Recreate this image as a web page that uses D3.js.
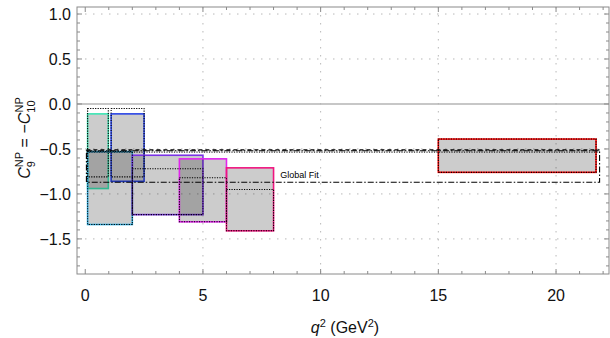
<!DOCTYPE html>
<html><head><meta charset="utf-8">
<script src="https://cdn.jsdelivr.net/npm/d3@7"></script>
<style>body{margin:0;background:#fff}svg{display:block}</style>
</head><body><svg id="c" width="610" height="338"></svg>
<script>
// bins (q^2 ranges) with 1-sigma ranges of C9 = -C10, outlined in colour
const binLo   = [0.1, 1.1, 0.1, 2.0, 4.0, 6.0, 15.0];
const binHi   = [0.98, 2.5, 2.0, 5.0, 6.0, 8.0, 21.7];
const boxTop  = [-0.11, -0.11, -0.53, -0.57, -0.61, -0.71, -0.39];
const boxBot  = [-0.94, -0.86, -1.34, -1.23, -1.31, -1.41, -0.76];
const boxCol  = ["#3de6b4", "#2a45e6", "#2fb1e6", "#7a32e6", "#e224ee", "#f0157f", "#ff0000"];
// second (black dotted) ranges on the same bins
const dotTop  = [-0.05, -0.05, -0.53, -0.72, -0.82, -0.95, -0.39];
const dotBot  = [-0.81, -0.81, -1.34, -1.23, -1.31, -1.41, -0.76];
// global fit band
const globalLo = 0.05, globalHi = 21.85;
const globalTop = -0.52, globalBot = -0.87, globalCentral = -0.51, globalTop2 = -0.535;
const xTicks = [0, 5, 10, 15, 20];
const yTicks = [1.0, 0.5, 0.0, -0.5, -1.0, -1.5];

const svg = d3.select("#c");
const L = 77, R = 609, T = 7, B = 274;
const x = d3.scaleLinear().domain([-0.35, 22.25]).range([L, R]);
const y = d3.scaleLinear().domain([-1.89, 1.078]).range([B, T]);

// grid
const g = svg.append("g");
yTicks.filter(v => v !== 0).forEach(v => {
  g.append("line").attr("x1", L).attr("x2", R).attr("y1", y(v)).attr("y2", y(v))
    .attr("stroke", "#b8b8b8").attr("stroke-width", 1).attr("stroke-dasharray", "1.5,6.5");
});
xTicks.filter(v => v !== 0).forEach(v => {
  g.append("line").attr("y1", T).attr("y2", B).attr("x1", x(v)).attr("x2", x(v))
    .attr("stroke", "#b8b8b8").attr("stroke-width", 1).attr("stroke-dasharray", "1.5,6.5");
});
g.append("line").attr("x1", L).attr("x2", R).attr("y1", y(0)).attr("y2", y(0))
  .attr("stroke", "#b4b4b4").attr("stroke-width", 1.6);

// boxes
const idx = d3.range(binLo.length);
svg.append("g").selectAll("rect").data(idx).join("rect")
  .attr("x", i => x(binLo[i])).attr("width", i => x(binHi[i]) - x(binLo[i]))
  .attr("y", i => y(boxTop[i])).attr("height", i => y(boxBot[i]) - y(boxTop[i]))
  .attr("fill", "#000").attr("fill-opacity", 0.2)
  .attr("stroke", i => boxCol[i]).attr("stroke-width", 1.6);
svg.append("g").selectAll("rect").data(idx).join("rect")
  .attr("x", i => x(binLo[i])).attr("width", i => x(binHi[i]) - x(binLo[i]))
  .attr("y", i => y(dotTop[i])).attr("height", i => y(dotBot[i]) - y(dotTop[i]))
  .attr("fill", "none").attr("stroke", "#000").attr("stroke-width", 1.1)
  .attr("stroke-dasharray", "1.2,1.3");

// global fit
svg.append("rect").attr("x", x(globalLo)).attr("width", x(globalHi) - x(globalLo))
  .attr("y", y(globalTop)).attr("height", y(globalBot) - y(globalTop))
  .attr("fill", "none").attr("stroke", "#000").attr("stroke-width", 1.1)
  .attr("stroke-dasharray", "6,2,1.5,2");
svg.append("line").attr("x1", x(globalLo)).attr("x2", x(globalHi))
  .attr("y1", y(globalCentral)).attr("y2", y(globalCentral))
  .attr("stroke", "#000").attr("stroke-width", 1.1).attr("stroke-dasharray", "4,3");
svg.append("line").attr("x1", x(globalLo)).attr("x2", x(globalHi))
  .attr("y1", y(globalTop2)).attr("y2", y(globalTop2))
  .attr("stroke", "#000").attr("stroke-width", 1).attr("stroke-dasharray", "1.2,1.3");
svg.append("text").attr("x", x(9.1)).attr("y", y(globalBot) - 4)
  .attr("text-anchor", "middle").attr("font-family", "Liberation Sans, Arial, sans-serif")
  .attr("font-size", 9).text("Global Fit");

// frame + ticks
const fr = svg.append("g").attr("stroke", "#8a8a8a").attr("stroke-width", 1);
fr.append("rect").attr("x", L).attr("y", T).attr("width", R - L).attr("height", B - T).attr("fill", "none");
const xMinor = d3.range(0, 23, 1);
xMinor.forEach(v => {
  const len = v % 5 === 0 ? 5 : 3;
  fr.append("line").attr("x1", x(v)).attr("x2", x(v)).attr("y1", B).attr("y2", B - len);
  fr.append("line").attr("x1", x(v)).attr("x2", x(v)).attr("y1", T).attr("y2", T + len);
});
const yMinor = d3.range(-18, 11, 1).map(v => v / 10);
yMinor.forEach((v, k) => {
  const len = Math.abs(Math.round(v * 10)) % 5 === 0 ? 5 : 3;
  fr.append("line").attr("y1", y(v)).attr("y2", y(v)).attr("x1", L).attr("x2", L + len);
  fr.append("line").attr("y1", y(v)).attr("y2", y(v)).attr("x1", R).attr("x2", R - len);
});

const font = "Liberation Sans, Arial, Helvetica, sans-serif";
svg.append("g").selectAll("text").data(xTicks).join("text")
  .attr("x", d => x(d)).attr("y", 301).attr("text-anchor", "middle")
  .attr("font-family", font).attr("font-size", 16).attr("fill", "#111").text(d => d);
svg.append("g").selectAll("text").data(yTicks).join("text")
  .attr("x", 71).attr("y", d => y(d) + 6).attr("text-anchor", "end")
  .attr("font-family", font).attr("font-size", 16).attr("fill", "#111")
  .text(d => d3.format(".1f")(d).replace("-", "\u2212"));

// axis titles
const xt = svg.append("text").attr("x", 345).attr("y", 333).attr("text-anchor", "middle")
  .attr("font-family", font).attr("font-size", 16).attr("fill", "#111");
xt.append("tspan").attr("font-style", "italic").text("q");
xt.append("tspan").attr("font-size", 11).attr("dy", -6).text("2");
xt.append("tspan").attr("dy", 6).text(" (GeV");
xt.append("tspan").attr("font-size", 11).attr("dy", -6).text("2");
xt.append("tspan").attr("dy", 6).text(")");

const yt = svg.append("text").attr("transform", "translate(30,138) rotate(-90)")
  .attr("text-anchor", "middle").attr("font-family", font).attr("font-size", 16).attr("fill", "#111");
yt.append("tspan").attr("font-style", "italic").text("C");
yt.append("tspan").attr("font-size", 11).attr("dy", 5).text("9");
yt.append("tspan").attr("font-size", 11).attr("dy", -12).attr("dx", -6).text("NP");
yt.append("tspan").attr("dy", 7).text(" = \u2212");
yt.append("tspan").attr("font-style", "italic").text("C");
yt.append("tspan").attr("font-size", 11).attr("dy", 5).text("10");
yt.append("tspan").attr("font-size", 11).attr("dy", -12).attr("dx", -12).text("NP");
</script></body></html>
